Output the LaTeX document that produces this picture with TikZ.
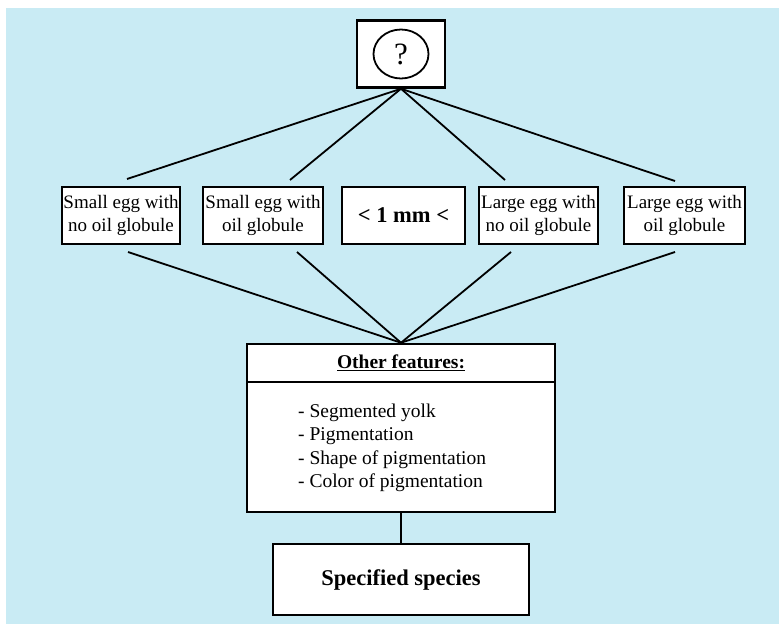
\documentclass[tikz,border=0pt]{standalone}
\usepackage{fontspec}
\usetikzlibrary{shapes.geometric}
\setmainfont{Liberation Serif}
\definecolor{bgblue}{RGB}{201,235,244}
\begin{document}
\begin{tikzpicture}[x=1pt,y=-1pt,
  box/.style={draw=black, line width=2.5pt, fill=white, inner sep=0pt, align=center,
    font=\fontsize{19}{23.5}\selectfont},
  conn/.style={draw=black, line width=1.8pt}]
\useasboundingbox (0,0) rectangle (779,624);
\fill[bgblue] (6,8) rectangle (779,624);

% top box
\node[box, minimum width=88pt, minimum height=67pt] (q) at (401,54) {};
\node[draw=black, line width=1.8pt, ellipse, minimum width=55pt, minimum height=49pt, inner sep=0pt,
  font=\fontsize{31}{33}\selectfont] (qe) at (q.center) {?};

% feature boxes
\node[box, minimum width=118pt, minimum height=57pt] (b1) at (121,215.5) {Small egg with\\no oil globule};
\node[box, minimum width=120pt, minimum height=57pt] (b2) at (263,215.5) {Small egg with\\oil globule};
\node[box, minimum width=123pt, minimum height=57pt, font=\fontsize{22.5}{26}\selectfont\bfseries] (b3) at (403.5,215.5) {< 1 mm <};
\node[box, minimum width=119pt, minimum height=57pt] (b4) at (538.5,215.5) {Large egg with\\no oil globule};
\node[box, minimum width=121pt, minimum height=57pt] (b5) at (684.5,215.5) {Large egg with\\oil globule};

% other features box
\node[box, minimum width=308pt, minimum height=38pt, font=\fontsize{19.5}{23.5}\selectfont\bfseries] (oft) at (401,363) {\underline{Other features:}};
\node[box, minimum width=308pt, minimum height=130pt] (ofb) at (401,447) {};
\node[inner sep=0pt, align=left, anchor=west, font=\fontsize{19.5}{23.5}\selectfont] (ofl) at (298,448) {- Segmented yolk\\- Pigmentation\\- Shape of pigmentation\\- Color of pigmentation};

% species box
\node[box, minimum width=256pt, minimum height=71pt, font=\fontsize{22.5}{26}\selectfont\bfseries] (sp) at (401,579.5) {Specified species};

% connector end points
\coordinate (t1) at (127,179);
\coordinate (t2) at (290,180);
\coordinate (t3) at (505,180);
\coordinate (t4) at (675,181);
\coordinate (u1) at (128,252);
\coordinate (u2) at (297,252);
\coordinate (u3) at (511,252);
\coordinate (u4) at (675,252);

\foreach \t in {t1,t2,t3,t4} \draw[conn] (q.south) -- (\t);
\foreach \u in {u1,u2,u3,u4} \draw[conn] (\u) -- (oft.north);
\draw[conn] (ofb.south) -- (sp.north);
\end{tikzpicture}
\end{document}
